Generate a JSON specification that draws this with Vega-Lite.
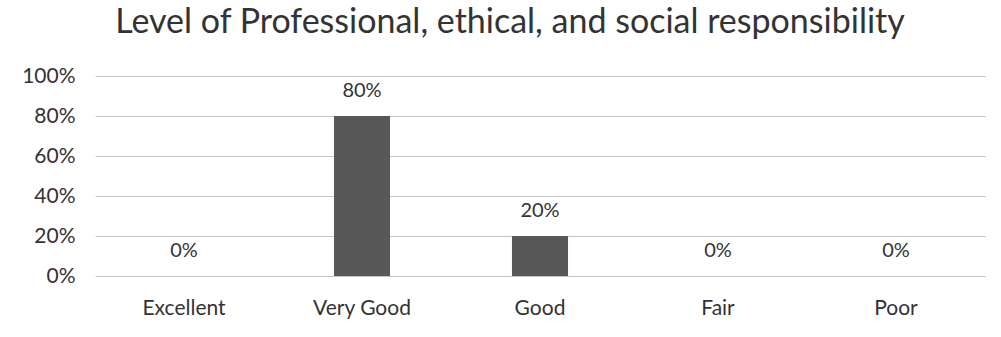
{
  "$schema": "https://vega.github.io/schema/vega-lite/v6.json",
  "autosize": "none",
  "width": 890,
  "height": 200,
  "padding": {"left": 95, "top": 76, "right": 16, "bottom": 61},
  "background": "white",
  "config": {"view": {"stroke": null}, "font": "Lato"},
  "title": {
    "text": "Level of Professional, ethical, and social responsibility",
    "fontSize": 34,
    "fontWeight": "normal",
    "color": "#333333",
    "font": "Lato",
    "anchor": "middle",
    "baseline": "bottom",
    "offset": -9,
    "dx": -30
  },
  "data": {
    "values": [
      {"rating": "Excellent", "pct": 0},
      {"rating": "Very Good", "pct": 0.8},
      {"rating": "Good", "pct": 0.2},
      {"rating": "Fair", "pct": 0},
      {"rating": "Poor", "pct": 0}
    ]
  },
  "encoding": {
    "x": {
      "field": "rating",
      "type": "nominal",
      "sort": null,
      "scale": {"paddingInner": 0.685, "paddingOuter": 0.3425},
      "axis": {
        "title": null,
        "labelAngle": 0,
        "ticks": false,
        "domain": false,
        "labelFontSize": 21,
        "labelColor": "#333333",
        "labelPadding": 21,
        "labelFont": "Lato"
      }
    },
    "y": {
      "field": "pct",
      "type": "quantitative",
      "scale": {"domain": [0, 1]},
      "axis": {
        "title": null,
        "format": ".0%",
        "values": [0, 0.2, 0.4, 0.6, 0.8, 1],
        "ticks": false,
        "domain": false,
        "labelFontSize": 21,
        "labelColor": "#333333",
        "labelPadding": 20,
        "labelFont": "Lato",
        "gridColor": "#c4c4c4",
        "gridWidth": 1
      }
    }
  },
  "layer": [
    {"mark": {"type": "bar", "color": "#585858"}},
    {
      "mark": {"type": "text", "baseline": "middle", "dy": -25, "fontSize": 20, "color": "#333333", "font": "Lato"},
      "encoding": {"text": {"field": "pct", "type": "quantitative", "format": ".0%"}}
    }
  ]
}
